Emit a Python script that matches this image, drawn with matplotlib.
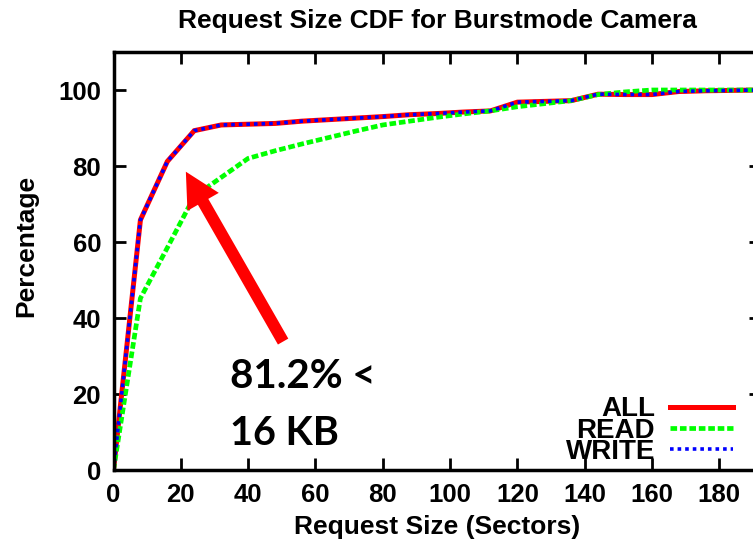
import matplotlib
matplotlib.use("Agg")
import matplotlib.pyplot as plt
from matplotlib.patches import FancyArrowPatch, ArrowStyle

plt.rcParams['font.family'] = ['Liberation Sans', 'DejaVu Sans']
plt.rcParams['font.weight'] = 'bold'
plt.rcParams['axes.titleweight'] = 'bold'
plt.rcParams['axes.labelweight'] = 'bold'

# Request sizes in sectors (8-sector steps) and cumulative percentages
sizes = [0, 8, 16, 24, 32, 40, 48, 56, 64, 72, 80, 88, 96, 104, 112,
         120, 128, 136, 144, 152, 160, 168, 176, 184, 192]
all_pct = [0, 65.8, 81.2, 89.3, 90.8, 91.0, 91.2, 91.8, 92.2, 92.6, 93.0,
           93.5, 93.8, 94.2, 94.5, 96.8, 97.0, 97.2, 98.9, 98.8, 98.8,
           99.6, 99.8, 99.9, 100]
read_pct = [0, 45.2, 58.5, 72.0, 77.0, 82.0, 84.0, 85.8, 87.5, 89.2, 90.8,
            91.8, 92.8, 93.7, 94.5, 95.6, 96.4, 97.2, 98.8, 99.5, 100,
            100, 100, 100, 100]
write_pct = [0, 65.8, 81.2, 89.3, 90.8, 91.0, 91.2, 91.8, 92.2, 92.6, 93.0,
             93.5, 93.8, 94.2, 94.5, 96.8, 97.0, 97.2, 98.9, 98.8, 98.8,
             99.6, 99.8, 99.9, 100]

x_ticks = [0, 20, 40, 60, 80, 100, 120, 140, 160, 180]
y_ticks = [0, 20, 40, 60, 80, 100]

fig = plt.figure(figsize=(7.53, 5.41), dpi=100)
W, H = 753, 541
ax = fig.add_axes([113.5 / W, 71 / H, (761 - 113.5) / W, (470 - 52) / H])

ax.plot(sizes, all_pct, color='#ff0000', lw=3.6, label='ALL',
        solid_joinstyle='miter')
ax.plot(sizes, read_pct, color='#00ff00', lw=3.4, ls=(0, (1.4, 0.6)),
        label='READ')
ax.plot(sizes, write_pct, color='#0000ff', lw=2.6, ls=(0, (1.0, 1.1)),
        label='WRITE')

ax.set_xlim(0, 192.4)
ax.set_ylim(0, 110)
ax.set_xticks(x_ticks)
ax.set_yticks(y_ticks)
ax.tick_params(direction='in', length=8.5, width=2, top=True, right=True,
               labelsize=18.5, pad=9)
for sp in ax.spines.values():
    sp.set_linewidth(2.5)

ax.set_title('Request Size CDF for Burstmode Camera', fontsize=19, pad=17)
ax.set_xlabel('Request Size (Sectors)', fontsize=19, labelpad=6)
ax.set_ylabel('Percentage', fontsize=19)
ax.yaxis.set_label_coords(-0.116, 0.536)

leg = ax.legend(loc='lower right', bbox_to_anchor=(733 / W, 76 / H),
                bbox_transform=fig.transFigure, frameon=False,
                markerfirst=False, fontsize=20, handlelength=2.27,
                handletextpad=0.54, labelspacing=-0.17, borderpad=0,
                borderaxespad=0)

# Callout arrow and label
arrow = FancyArrowPatch((50.4, 33.8), (21.5, 78.5),
                        arrowstyle=ArrowStyle.Simple(head_length=25,
                                                     head_width=26,
                                                     tail_width=8.6),
                        mutation_scale=1, shrinkA=0, shrinkB=0,
                        color='#ff0000', lw=0, zorder=5)
ax.add_patch(arrow)
ax.text(34.6, 21.6, '81.2% <', fontsize=29, fontweight='bold',
        family=['Lato', 'DejaVu Sans'], va='baseline', ha='left')
ax.text(34.6, 6.6, '16 KB', fontsize=28.5, fontweight='bold',
        family=['Lato', 'DejaVu Sans'], va='baseline', ha='left')

fig.savefig('out.png', dpi=100)
